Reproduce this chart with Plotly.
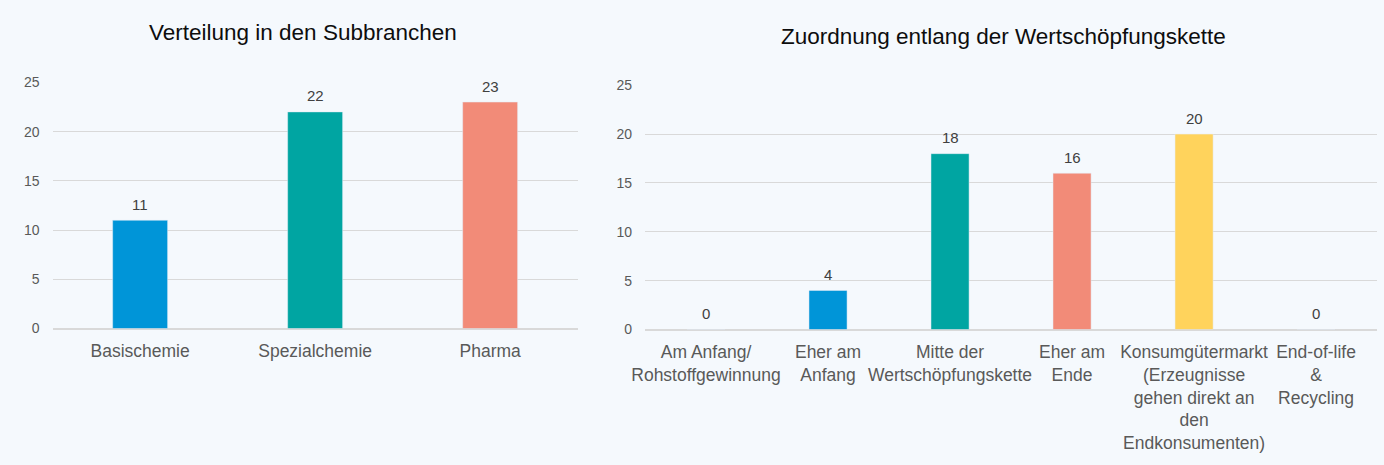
import plotly.graph_objects as go

# Data
sub_categories = ["Basischemie", "Spezialchemie", "Pharma"]
sub_values = [11, 22, 23]
sub_colors = ["#0095D8", "#00A5A2", "#F28B78"]

chain_categories = [
    "Am Anfang/<br>Rohstoffgewinnung",
    "Eher am<br>Anfang",
    "Mitte der<br>Wertschöpfungskette",
    "Eher am<br>Ende",
    "Konsumgütermarkt<br>(Erzeugnisse<br>gehen direkt an<br>den<br>Endkonsumenten)",
    "End-of-life<br>&<br>Recycling",
]
chain_values = [0, 4, 18, 16, 20, 0]
chain_colors = ["#0095D8", "#0095D8", "#00A5A2", "#F28B78", "#FFD35C", "#0095D8"]

y_ticks = [0, 5, 10, 15, 20, 25]

title_left = "Verteilung in den Subbranchen"
title_right = "Zuordnung entlang der Wertschöpfungskette"

FONT = "Liberation Sans, Arial, sans-serif"
BG = "#F5F9FD"
LABEL_FONT = dict(size=15, color="#404040", family=FONT)

fig = go.Figure()
fig.add_trace(go.Bar(
    x=sub_categories, y=sub_values, marker_color=sub_colors,
    width=0.314, xaxis="x", yaxis="y", showlegend=False, hoverinfo="x+y",
))
fig.add_trace(go.Bar(
    x=chain_categories, y=chain_values, marker_color=chain_colors,
    width=0.312, xaxis="x2", yaxis="y2", showlegend=False, hoverinfo="y",
))

annotations = []
for c, v in zip(sub_categories, sub_values):
    annotations.append(dict(text=str(v), x=c, y=v, xref="x", yref="y", showarrow=False,
                            xanchor="center", yanchor="middle", yshift=16, font=LABEL_FONT))
for c, v in zip(chain_categories, chain_values):
    annotations.append(dict(text=str(v), x=c, y=v, xref="x2", yref="y2", showarrow=False,
                            xanchor="center", yanchor="middle", yshift=16, font=LABEL_FONT))
annotations += [
    dict(text=title_left, x=293/1384, y=1-25/465, xref="paper", yref="paper",
         showarrow=False, xanchor="center", yanchor="middle",
         font=dict(size=22.5, color="#0D0D0D", family=FONT)),
    dict(text=title_right, x=1000/1384, y=1-30/465, xref="paper", yref="paper",
         showarrow=False, xanchor="center", yanchor="middle",
         font=dict(size=22.5, color="#0D0D0D", family=FONT)),
]

yax = dict(range=[0, 25], tickvals=y_ticks, showgrid=True, gridcolor="#D9D9D9",
           gridwidth=1, zeroline=True, zerolinecolor="#D9D9D9", zerolinewidth=1.5,
           showline=False, ticks="",
           tickfont=dict(size=14, color="#595959", family=FONT), ticklabelstandoff=12,
           fixedrange=True)
xax = dict(showgrid=False, showline=False, zeroline=False, ticks="",
           tickfont=dict(size=17.5, color="#595959", family=FONT), ticklabelstandoff=10,
           fixedrange=True)

fig.update_layout(
    width=1384, height=465,
    margin=dict(l=0, r=0, t=0, b=0),
    paper_bgcolor=BG, plot_bgcolor=BG,
    font=dict(family=FONT),
    xaxis=dict(domain=[40/1384, 570/1384], anchor="y", **xax),
    yaxis=dict(domain=[1-332/465, 1-77/465], anchor="x", **yax),
    xaxis2=dict(domain=[638/1384, 1377/1384], anchor="y2", **xax),
    yaxis2=dict(domain=[1-333/465, 1-80/465], anchor="x2", **yax),
    annotations=annotations,
)

fig.write_html(
    "out.html",
    config={"displayModeBar": False},
    post_script="document.body.style.margin='0';document.body.style.background='%s';document.documentElement.style.overflow='hidden';" % BG,
)
